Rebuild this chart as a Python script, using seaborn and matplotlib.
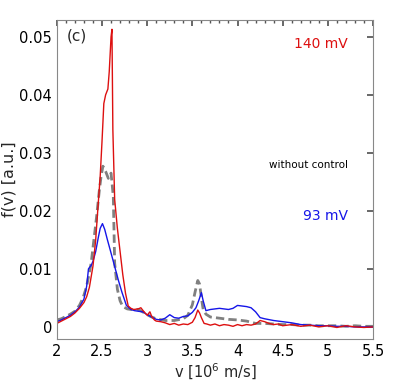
import numpy as np
import pandas as pd
import matplotlib
matplotlib.use("Agg")
import matplotlib.pyplot as plt
import seaborn as sns
from matplotlib.ticker import MultipleLocator

# ---- data ----
red_v = [2.0, 2.05, 2.1, 2.15, 2.2, 2.25, 2.3, 2.33, 2.36, 2.4, 2.43, 2.45, 2.48, 2.5, 2.52,
         2.54, 2.565, 2.58, 2.6, 2.61, 2.62, 2.64, 2.67, 2.7, 2.73, 2.76, 2.79, 2.82, 2.85, 2.9,
         2.93, 2.96, 3.0, 3.03, 3.05, 3.08, 3.1, 3.15, 3.2, 3.25, 3.3, 3.35, 3.4, 3.45, 3.5,
         3.53, 3.56, 3.58, 3.6, 3.63, 3.66, 3.7, 3.75, 3.8, 3.85, 3.9, 3.95, 4.0, 4.05, 4.1,
         4.15, 4.2, 4.25, 4.3, 4.35, 4.4, 4.45, 4.5, 4.6, 4.7, 4.8, 4.9, 5.0, 5.1, 5.2, 5.3,
         5.4, 5.5]
red_f = [0.0006, 0.0010, 0.0014, 0.0018, 0.0024, 0.0032, 0.0042, 0.0052, 0.0068, 0.0105, 0.0150,
         0.0195, 0.0260, 0.0320, 0.0385, 0.0400, 0.0410, 0.0440, 0.0500, 0.0513, 0.0340, 0.0220,
         0.0170, 0.0130, 0.0090, 0.0058, 0.0036, 0.0032, 0.0030, 0.0031, 0.0033, 0.0027, 0.0020,
         0.0026, 0.0018, 0.0012, 0.0010, 0.0009, 0.0007, 0.0004, 0.0006, 0.0003, 0.0005, 0.0004,
         0.0008, 0.0016, 0.0029, 0.0024, 0.0016, 0.0006, 0.0005, 0.0003, 0.0005, 0.0002, 0.0004,
         0.0003, 0.0001, 0.0004, 0.0002, 0.0004, 0.0003, 0.0005, 0.0011, 0.0009, 0.0006, 0.0004,
         0.0005, 0.0002, 0.0004, 0.0001, 0.0003, 0.0000, 0.0002, -0.0001, 0.0002, 0.0000, -0.0001,
         0.0000]

blue_v = [2.0, 2.05, 2.1, 2.15, 2.2, 2.25, 2.3, 2.33, 2.35, 2.38, 2.4, 2.43, 2.46, 2.48, 2.505,
          2.53, 2.56, 2.59, 2.63, 2.68, 2.72, 2.77, 2.82, 2.86, 2.9, 2.95, 3.0, 3.05, 3.1, 3.15,
          3.2, 3.25, 3.3, 3.35, 3.4, 3.45, 3.5, 3.54, 3.57, 3.6, 3.62, 3.65, 3.7, 3.75, 3.8,
          3.85, 3.9, 3.95, 4.0, 4.05, 4.1, 4.15, 4.2, 4.25, 4.3, 4.4, 4.5, 4.6, 4.7, 4.8, 4.9,
          5.0, 5.1, 5.2, 5.3, 5.4, 5.5]
blue_f = [0.0009, 0.0012, 0.0016, 0.0020, 0.0026, 0.0034, 0.0048, 0.0070, 0.0100, 0.0106, 0.0113,
          0.0130, 0.0155, 0.0170, 0.0178, 0.0168, 0.0150, 0.0133, 0.0110, 0.0081, 0.0060, 0.0037,
          0.0030, 0.0028, 0.0027, 0.0026, 0.0021, 0.0017, 0.0013, 0.0012, 0.0015, 0.0021, 0.0016,
          0.0015, 0.0018, 0.0019, 0.0025, 0.0033, 0.0045, 0.0059, 0.0045, 0.0028, 0.0030, 0.0031,
          0.0032, 0.0031, 0.0030, 0.0032, 0.0037, 0.0036, 0.0035, 0.0033, 0.0026, 0.0016, 0.0014,
          0.0011, 0.0009, 0.0007, 0.0004, 0.0003, 0.0002, 0.0002, 0.0001, 0.0001, 0.0000, 0.0000,
          0.0000]

gray_v = [2.0, 2.05, 2.1, 2.15, 2.2, 2.25, 2.29, 2.33, 2.38, 2.41, 2.44, 2.47, 2.49, 2.51, 2.54,
          2.57, 2.6, 2.625, 2.64, 2.67, 2.7, 2.73, 2.78, 2.82, 2.86, 2.9, 2.95, 3.0, 3.05,
          3.1, 3.2, 3.3, 3.4, 3.45, 3.5, 3.53, 3.56, 3.58, 3.6, 3.62, 3.65, 3.7, 3.8, 3.9, 4.0,
          4.1, 4.2, 4.3, 4.4, 4.5, 4.6, 4.7, 4.8, 4.9, 5.0, 5.1, 5.2, 5.3, 5.4, 5.5]
gray_f = [0.0012, 0.0014, 0.0018, 0.0022, 0.0027, 0.0037, 0.0050, 0.0070, 0.0110, 0.0150, 0.0190,
          0.0235, 0.0260, 0.0277, 0.0268, 0.0256, 0.0265, 0.0225, 0.0110, 0.0065, 0.0045, 0.0035,
          0.0031, 0.0030, 0.0030, 0.0030, 0.0026, 0.0021, 0.0017, 0.0014, 0.0011, 0.0011,
          0.0014, 0.0020, 0.0038, 0.0060, 0.0080, 0.0074, 0.0050, 0.0030, 0.0022, 0.0017, 0.0015,
          0.0013, 0.0012, 0.0010, 0.0006, 0.0006, 0.0005, 0.0004, 0.0004, 0.0003, 0.0003, 0.0002,
          0.0002, 0.0002, 0.0001, 0.0002, 0.0001, 0.0001]

sns.set_theme(style="white")
plt.rcParams['font.family'] = ['DejaVu Sans']

fig = plt.figure(figsize=(4.09, 3.92), dpi=100)
ax = fig.add_axes([0.139, 0.135, 0.773, 0.814])

sns.lineplot(x=gray_v, y=gray_f, ax=ax, color="#808080", lw=2.0, linestyle=(0, (3, 1.5)))
sns.lineplot(x=blue_v, y=blue_f, ax=ax, color="#1515e8", lw=1.0)
sns.lineplot(x=red_v, y=red_f, ax=ax, color="#dd1010", lw=1.0)

ax.set_xlim(2, 5.5)
ax.set_ylim(-0.0021, 0.0529)
ax.xaxis.set_minor_locator(MultipleLocator(0.1))
ax.set_xticks([2, 2.5, 3, 3.5, 4, 4.5, 5, 5.5])
ax.set_xticklabels(["2", "2.5", "3", "3.5", "4", "4.5", "5", "5.5"])
ax.set_yticks([0, 0.01, 0.02, 0.03, 0.04, 0.05])
ax.set_yticklabels(["0", "0.01", "0.02", "0.03", "0.04", "0.05"])
ax.tick_params(which="both", direction="in", top=True, right=True, colors="#555555",
               labelcolor="black", labelsize=10.5)
ax.tick_params(which="major", length=4)
ax.tick_params(which="minor", length=2, left=False, right=False)
for s in ax.spines.values():
    s.set_color("#888888")
    s.set_linewidth(0.8)

ax.set_xlabel("v [10$^6$ m/s]", fontsize=10.5, labelpad=2)
ax.set_ylabel("f(v) [a.u.]", fontsize=11.5, labelpad=2)

ax.text(0.03, 0.95, "(c)", transform=ax.transAxes, fontsize=11, va="center", ha="left")
ax.text(0.92, 0.925, "140 mV", transform=ax.transAxes, fontsize=10, color="#dd1010",
        ha="right", va="center")
ax.text(0.92, 0.545, "without control", transform=ax.transAxes, fontsize=7.5,
        color="black", ha="right", va="center")
ax.text(0.92, 0.385, "93 mV", transform=ax.transAxes, fontsize=10, color="#1515e8",
        ha="right", va="center")

fig.savefig("out.png", dpi=100)
